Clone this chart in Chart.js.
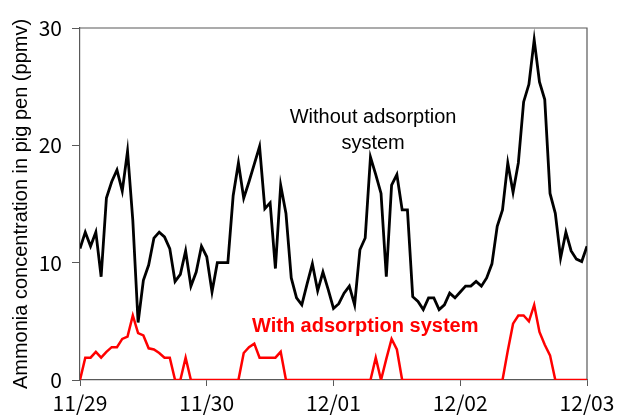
<!DOCTYPE html>
<html>
<head>
<meta charset="utf-8">
<script src="https://cdn.jsdelivr.net/npm/chart.js@4/dist/chart.umd.min.js"></script>
<style>
  html, body { margin: 0; padding: 0; background: #fff; }
  #wrap { width: 619px; height: 416px; }
</style>
</head>
<body>
<div id="wrap"><canvas id="chart"></canvas></div>
<script>
// hourly readings, 11/29 00:00 to 12/03 00:00
const dayLabels = ['11/29', '11/30', '12/01', '12/02', '12/03'];
const yTicks = [0, 10, 20, 30];

const withoutSystem = [
    11.2, 12.6, 11.4, 12.6, 8.8, 15.5, 16.9, 17.9, 16.1, 19.5, 13.6, 4.9,
    8.5, 9.8, 12.1, 12.6, 12.2, 11.2, 8.4, 9.0, 11.0, 8.0, 9.2, 11.4,
    10.5, 7.5, 10.0, 10.0, 10.0, 15.7, 18.5, 15.5, 16.9, 18.4, 19.9, 14.6,
    15.1, 9.5, 16.6, 14.2, 8.7, 7.0, 6.4, 8.2, 9.9, 7.6, 9.2, 7.7,
    6.1, 6.5, 7.4, 8.0, 6.4, 11.1, 12.1, 19.0, 17.5, 15.9, 8.8, 16.6,
    17.5, 14.5, 14.5, 7.1, 6.7, 6.0, 7.0, 7.0, 6.0, 6.4, 7.4, 7.0,
    7.5, 8.0, 8.0, 8.4, 8.0, 8.7, 9.9, 13.1, 14.5, 18.5, 16.0, 18.5,
    23.7, 25.2, 29.0, 25.4, 23.9, 15.9, 14.2, 10.4, 12.6, 11.0, 10.3, 10.1,
    11.4
];

const withSystem = [
    0, 1.9, 1.9, 2.4, 1.9, 2.4, 2.8, 2.8, 3.5, 3.7, 5.5, 4.0,
    3.8, 2.7, 2.6, 2.3, 1.9, 1.9, 0, 0, 1.9, 0, 0, 0,
    0, 0, 0, 0, 0, 0, 0, 2.3, 2.8, 3.1, 1.9, 1.9,
    1.9, 1.9, 2.4, 0, 0, 0, 0, 0, 0, 0, 0, 0,
    0, 0, 0, 0, 0, 0, 0, 0, 1.9, 0, 1.8, 3.5,
    2.6, 0, 0, 0, 0, 0, 0, 0, 0, 0, 0, 0,
    0, 0, 0, 0, 0, 0, 0, 0, 0, 2.5, 4.8, 5.5,
    5.5, 5.0, 6.4, 4.1, 3.0, 2.1, 0, 0, 0, 0, 0, 0,
    0
];

const toPoints = arr => arr.map((v, i) => ({ x: i, y: v }));

// frame on top/right and the two in-plot captions
const extras = {
    id: 'extras',
    beforeDatasetsDraw(chart) {
        const { ctx, chartArea: a } = chart;
        ctx.save();
        ctx.strokeStyle = '#595959';
        ctx.lineWidth = 1.2;
        ctx.beginPath();
        ctx.moveTo(a.left, a.top);
        ctx.lineTo(a.right, a.top);
        ctx.lineTo(a.right, a.bottom);
        ctx.stroke();
        ctx.restore();
    },
    afterDatasetsDraw(chart) {
        const { ctx, scales: { x, y } } = chart;
        ctx.save();
        ctx.textAlign = 'center';
        ctx.textBaseline = 'alphabetic';
        ctx.fillStyle = '#000';
        ctx.font = '20px "Liberation Sans", Arial, sans-serif';
        ctx.fillText('Without adsorption', x.getPixelForValue(55.5), y.getPixelForValue(21.9));
        ctx.fillText('system', x.getPixelForValue(55.5), y.getPixelForValue(19.7));
        ctx.fillStyle = '#ff0000';
        ctx.font = 'bold 20px "Liberation Sans", Arial, sans-serif';
        ctx.fillText('With adsorption system', x.getPixelForValue(54.0), y.getPixelForValue(4.1));
        ctx.restore();
    }
};

const tickFont = { family: '"Noto Sans CJK JP", "Noto Sans", sans-serif', size: 21 };

new Chart(document.getElementById('chart').getContext('2d'), {
    type: 'line',
    data: {
        datasets: [{
            label: 'With adsorption system',
            data: toPoints(withSystem),
            borderColor: '#ff0000',
            borderWidth: 2.5,
            pointRadius: 0,
            tension: 0,
            fill: false
        }, {
            label: 'Without adsorption system',
            data: toPoints(withoutSystem),
            borderColor: '#000000',
            borderWidth: 2.8,
            pointRadius: 0,
            tension: 0,
            fill: false
        }]
    },
    options: {
        responsive: true,
        maintainAspectRatio: false,
        animation: false,
        layout: { padding: { left: 0, right: 32, top: 28, bottom: 0 } },
        plugins: {
            legend: { display: false },
            tooltip: { enabled: false }
        },
        scales: {
            x: {
                type: 'linear',
                min: 0,
                max: 96,
                afterBuildTicks: s => { s.ticks = dayLabels.map((_, i) => ({ value: i * 24 })); },
                afterFit: s => { s.height = 36; },
                ticks: {
                    callback: v => dayLabels[v / 24],
                    font: tickFont,
                    color: '#000',
                    padding: 4,
                    maxRotation: 0,
                    autoSkip: false
                },
                grid: { drawOnChartArea: false, drawTicks: true, tickLength: 6, color: '#595959' },
                border: { color: '#595959', width: 1.2 }
            },
            y: {
                min: 0,
                max: 30,
                afterBuildTicks: s => { s.ticks = yTicks.map(v => ({ value: v })); },
                afterFit: s => { s.width = 80; },
                ticks: { font: tickFont, color: '#000', padding: 10 },
                grid: { drawOnChartArea: false, drawTicks: true, tickLength: 8, color: '#595959' },
                border: { color: '#595959', width: 1.2 },
                title: {
                    display: true,
                    text: 'Ammonia concentration in pig pen (ppmv)',
                    font: { family: '"Liberation Sans", Arial, sans-serif', size: 20 },
                    color: '#000',
                    padding: 9
                }
            }
        }
    },
    plugins: [extras]
});
</script>
</body>
</html>
